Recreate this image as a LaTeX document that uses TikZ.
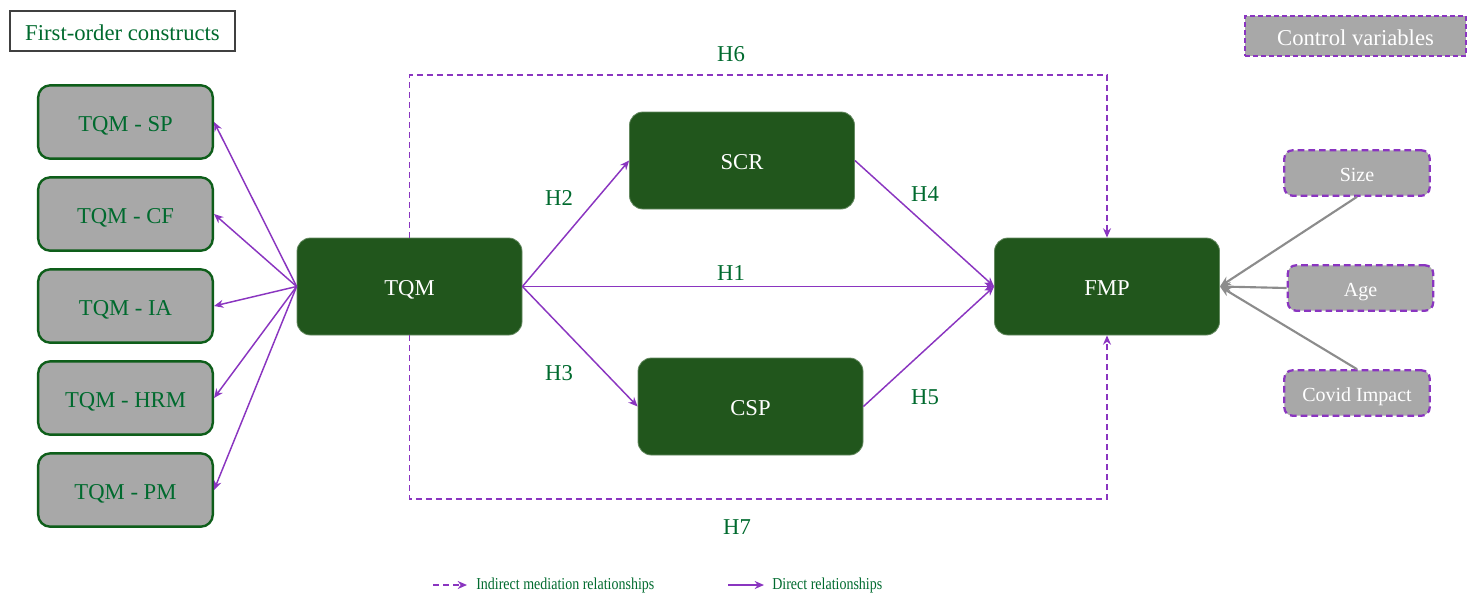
\documentclass[tikz,border=0pt]{standalone}
\usepackage{fontspec}
\setmainfont{Liberation Serif}
\usetikzlibrary{arrows.meta,calc}
\definecolor{dkgreen}{HTML}{21561C}
\definecolor{txtgreen}{HTML}{006A2E}
\definecolor{purp}{HTML}{8A35C0}
\definecolor{boxgray}{HTML}{A8A8A8}
\definecolor{linegray}{HTML}{8C8C8C}
\definecolor{bordergreen}{HTML}{0E5E1A}
\begin{document}
\begin{tikzpicture}[x=0.75pt,y=-0.75pt,
  mainbox/.style={fill=dkgreen,draw=dkgreen!70!white,line width=0.6pt,rounded corners=10pt,minimum width=168.75pt,minimum height=72.75pt,inner sep=0pt,text=white,font=\fontsize{17}{20}\selectfont,text height=14pt,text depth=0pt},
  fobox/.style={fill=boxgray,draw=bordergreen,line width=1.8pt,rounded corners=9pt,minimum width=131pt,minimum height=55pt,inner sep=0pt,text=txtgreen,font=\fontsize{17}{20}\selectfont,text height=14pt,text depth=0pt},
  ctrlbox/.style={fill=boxgray,draw=purp,line width=1.7pt,dash pattern=on 5pt off 3pt,rounded corners=6pt,minimum width=109pt,minimum height=34pt,inner sep=0pt,text=white,font=\fontsize{15}{18}\selectfont,text height=13pt,text depth=0pt},
  hlab/.style={text=txtgreen,font=\fontsize{17}{20}\selectfont,inner sep=1pt},
  direct/.style={draw=purp,line width=1.1pt,-{Stealth[length=7pt,width=6pt]}},
  indirect/.style={draw=purp,line width=1.1pt,dash pattern=on 4.5pt off 3pt,-{Stealth[length=7pt,width=6pt]}},
  ctrlarrow/.style={draw=linegray,line width=1.6pt,-{Stealth[length=8pt,width=7pt]}},
  legtext/.style={text=txtgreen,font=\fontsize{12.5}{15}\selectfont,anchor=west,inner sep=0pt}
]
\useasboundingbox (0,0) rectangle (1476,604);

% header boxes
\node[draw=black!75,line width=0.8pt,fill=white,minimum width=168.75pt,minimum height=30pt,inner sep=0pt,text=txtgreen,font=\fontsize{17}{20}\selectfont,text height=13.5pt,text depth=0pt] (hdr) at (122.5,31) {First-order constructs};
\node[fill=boxgray,draw=purp,line width=1pt,dash pattern=on 3.5pt off 2.5pt,minimum width=165.75pt,minimum height=30pt,inner sep=0pt,text=white,font=\fontsize{17}{20}\selectfont,text height=13.5pt,text depth=0pt] (ctrl) at (1355.5,36) {Control variables};

% first-order constructs
\node[fobox] (SP)  at (125.5,122) {TQM - SP};
\node[fobox] (CF)  at (125.5,214) {TQM - CF};
\node[fobox] (IA)  at (125.5,306) {TQM - IA};
\node[fobox] (HRM) at (125.5,398) {TQM - HRM};
\node[fobox] (PM)  at (125.5,490) {TQM - PM};

\coordinate (topy) at (0,75);
\coordinate (boty) at (0,499);

% main constructs
\node[mainbox] (TQM) at (409.5,286.5) {TQM};
\node[mainbox] (SCR) at (742,160.5) {SCR};
\node[mainbox] (CSP) at (750.5,406.5) {CSP};
\node[mainbox] (FMP) at (1107,286.5) {FMP};

\draw[indirect] (TQM.north) -- (TQM.north |- topy) -| (FMP.north);
\draw[indirect] (TQM.south) -- (TQM.south |- boty) -| (FMP.south);

% control variables
\node[ctrlbox] (size)  at (1357,173) {Size};
\node[ctrlbox] (age)   at (1360.5,288) {Age};
\node[ctrlbox] (covid) at (1357,393) {Covid Impact};

% arrows TQM -> first-order
\foreach \n in {SP,CF,IA,HRM,PM} {
  \draw[direct] (TQM.west) -- (\n.east);
}

% structural paths
\draw[direct] (TQM.east) -- (SCR.west);
\draw[direct] (TQM.east) -- (CSP.west);
\draw[direct] (TQM.east) -- (FMP.west);
\draw[direct] (SCR.east) -- (FMP.west);
\draw[direct] (CSP.east) -- (FMP.west);

% control arrows
\draw[ctrlarrow] (size.south) -- (FMP.east);
\draw[ctrlarrow] (age.west) -- (FMP.east);
\draw[ctrlarrow] (covid.north) -- (FMP.east);

% hypothesis labels
\node[hlab] (H1) at (731,273) {H1};
\node[hlab] (H2) at (559,198) {H2};
\node[hlab] (H3) at (559,373) {H3};
\node[hlab] (H4) at (925,194) {H4};
\node[hlab] (H5) at (925,397) {H5};
\node[hlab] (H6) at (731,54) {H6};
\node[hlab] (H7) at (737,527) {H7};

% legend
\coordinate (la1) at (433,585);
\coordinate (la2) at (467,585);
\coordinate (lb1) at (728,585);
\coordinate (lb2) at (764,585);
\draw[indirect] (la1) -- (la2);
\draw[direct] (lb1) -- (lb2);
\node[legtext] (lt1) at (476,585) {\scalebox{0.84}[1]{Indirect mediation relationships}};
\node[legtext] (lt2) at (772,585) {\scalebox{0.84}[1]{Direct relationships}};
\end{tikzpicture}
\end{document}
